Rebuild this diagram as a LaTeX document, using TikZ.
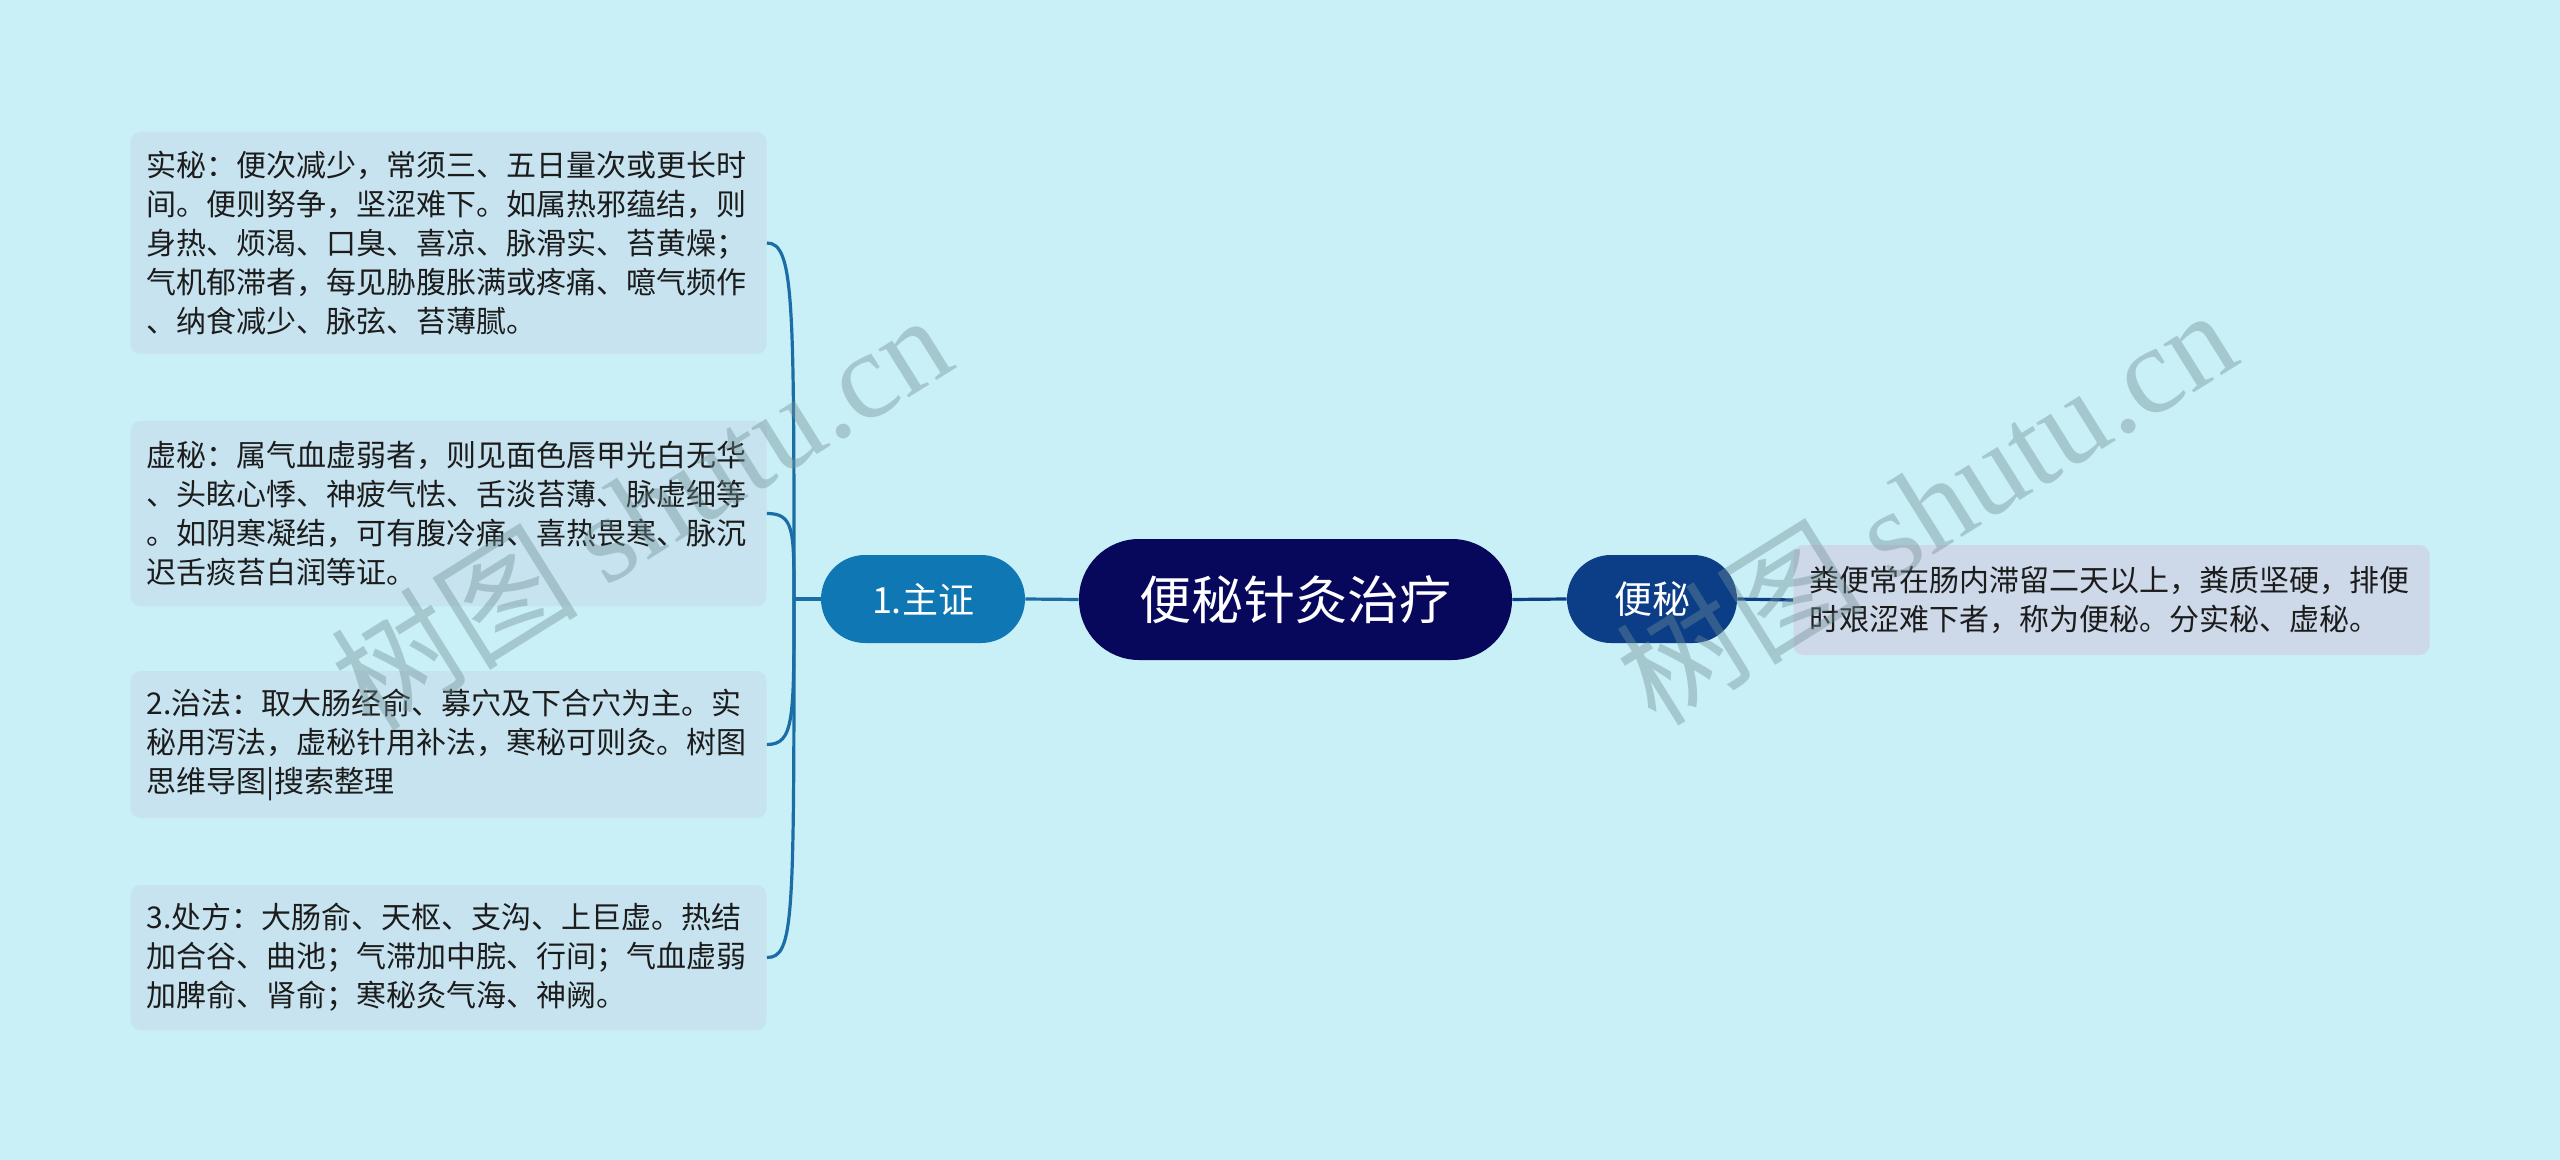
\documentclass[tikz,border=0pt]{standalone}
\usepackage{fontspec}
\setmainfont{Noto Sans CJK SC}
\newfontfamily\wmserif{Liberation Serif}
\definecolor{bgc}{HTML}{C9EFF7}
\definecolor{boxc}{HTML}{C7E3EF}
\definecolor{rboxc}{HTML}{CDD8E8}
\definecolor{rootc}{HTML}{07085C}
\definecolor{mainc}{HTML}{0F77B3}
\definecolor{bmc}{HTML}{0C3D87}
\definecolor{linec}{HTML}{1B6EA5}
\definecolor{txtc}{HTML}{1C1C1C}
\definecolor{wmc}{HTML}{6F8F95}
\begin{document}
\begin{tikzpicture}[x=0.5pt,y=-0.5pt,
  txt/.style={fill=boxc, rounded corners=5pt, text width=302pt, inner xsep=8pt, inner ysep=0pt, align=left, font=\fontsize{15pt}{19.5pt}\selectfont, text=txtc},
  pill/.style={rounded corners=22pt, text=white, inner sep=0pt, align=center},
  lc/.style={draw=linec, line width=1.6pt},
  nc/.style={draw=bmc, line width=1.6pt},
  wm/.style={text=wmc, opacity=0.4, font=\fontsize{62pt}{62pt}\selectfont}]
\useasboundingbox[fill=bgc] (0,0) rectangle (2560,1160);
% nodes
\node[pill, fill=rootc, minimum width=216.5pt, minimum height=60.5pt, rounded corners=30pt, font=\fontsize{26pt}{30pt}\selectfont] (root) at (1295.5,599.5) {便秘针灸治疗};
\node[pill, fill=mainc, minimum width=102pt, minimum height=44pt, font=\fontsize{18pt}{22pt}\selectfont] (zz) at (923,599) {1.主证};
\node[pill, fill=bmc, minimum width=85pt, minimum height=44pt, font=\fontsize{19pt}{22pt}\selectfont] (bm) at (1652,599) {便秘};
\node[txt, fill=rboxc, minimum height=55pt] (rb) at (2111.5,600) {粪便常在肠内滞留二天以上，粪质坚硬，排便\\时艰涩难下者，称为便秘。分实秘、虚秘。};
\node[txt, minimum height=111pt] (b1) at (448.5,243) {实秘：便次减少，常须三、五日量次或更长时\\间。便则努争，坚涩难下。如属热邪蕴结，则\\身热、烦渴、口臭、喜凉、脉滑实、苔黄燥；\\气机郁滞者，每见胁腹胀满或疼痛、噫气频作\\、纳食减少、脉弦、苔薄腻。};
\node[txt, minimum height=92.5pt] (b2) at (448.5,513.5) {虚秘：属气血虚弱者，则见面色唇甲光白无华\\、头眩心悸、神疲气怯、舌淡苔薄、脉虚细等\\。如阴寒凝结，可有腹冷痛、喜热畏寒、脉沉\\迟舌痰苔白润等证。};
\node[txt, minimum height=73.5pt] (b3) at (448.5,744.5) {2.治法：取大肠经俞、募穴及下合穴为主。实\\秘用泻法，虚秘针用补法，寒秘可则灸。树图\\思维导图|搜索整理};
\node[txt, minimum height=72.5pt] (b4) at (448.5,957.5) {3.处方：大肠俞、天枢、支沟、上巨虚。热结\\加合谷、曲池；气滞加中脘、行间；气血虚弱\\加脾俞、肾俞；寒秘灸气海、神阙。};
% connectors
\coordinate (sp) at (794,599);
\draw[lc] (root.west) -- (zz.east);
\draw[nc] (root.east) -- (bm.west);
\draw[nc] (bm.east) -- (rb.west);
\draw[lc] (zz.west) -- (sp);
\draw[lc] (sp) .. controls (794,300) and (794,243) .. (b1.east);
\draw[lc] (sp) .. controls (794,530) and (794,513.5) .. (b2.east);
\draw[lc] (sp) .. controls (794,720) and (794,744.5) .. (b3.east);
\draw[lc] (sp) .. controls (794,920) and (794,957.5) .. (b4.east);
% watermarks
\node[wm, rotate=32] (wm1) at (640,510) {树图 {\wmserif shutu.cn}};
\node[wm, rotate=32] (wm2) at (1925,505) {树图 {\wmserif shutu.cn}};
\end{tikzpicture}
\end{document}
